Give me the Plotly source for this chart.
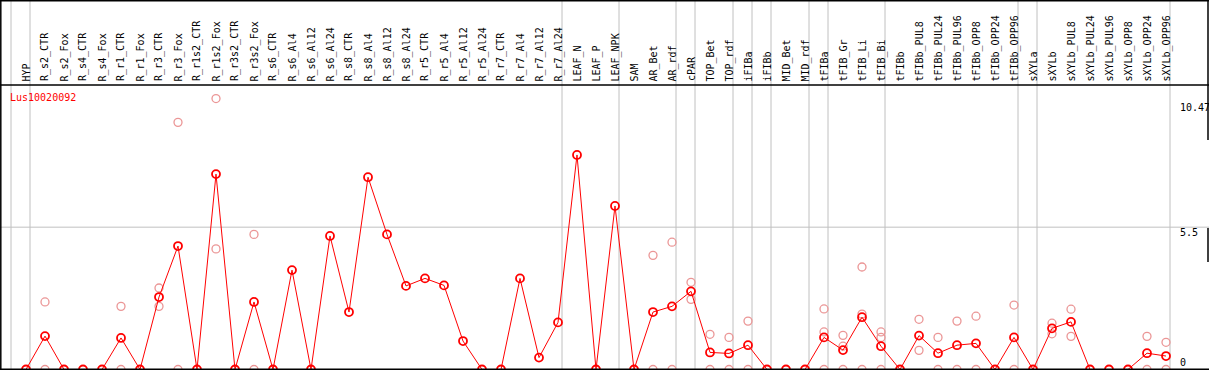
import plotly.graph_objects as go

# ---------------- data ----------------
categories = [
    "HYP", "R_s2_CTR", "R_s2_Fox", "R_s4_CTR", "R_s4_Fox", "R_r1_CTR", "R_r1_Fox",
    "R_r3_CTR", "R_r3_Fox", "R_r1s2_CTR", "R_r1s2_Fox", "R_r3s2_CTR", "R_r3s2_Fox",
    "R_s6_CTR", "R_s6_Al4", "R_s6_Al12", "R_s6_Al24", "R_s8_CTR", "R_s8_Al4",
    "R_s8_Al12", "R_s8_Al24", "R_r5_CTR", "R_r5_Al4", "R_r5_Al12", "R_r5_Al24",
    "R_r7_CTR", "R_r7_Al4", "R_r7_Al12", "R_r7_Al24", "LEAF_N", "LEAF_P", "LEAF_NPK",
    "SAM", "AR_Bet", "AR_rdf", "cPAR", "TOP_Bet", "TOP_rdf", "iFIBa", "iFIBb",
    "MID_Bet", "MID_rdf", "tFIBa", "tFIB_Gr", "tFIB_Li", "tFIB_Bi", "tFIBb",
    "tFIBb_PUL8", "tFIBb_PUL24", "tFIBb_PUL96", "tFIBb_OPP8", "tFIBb_OPP24",
    "tFIBb_OPP96", "sXYLa", "sXYLb", "sXYLb_PUL8", "sXYLb_PUL24", "sXYLb_PUL96",
    "sXYLb_OPP8", "sXYLb_OPP24", "sXYLb_OPP96",
]

mean_values = [
    0, 1.29, 0, 0, 0, 1.22, 0, 2.80, 4.77, 0, 7.55, 0, 2.61,
    0, 3.84, 0, 5.16, 2.22, 7.43, 5.22, 3.23, 3.52, 3.25, 1.10, 0,
    0, 3.52, 0.46, 1.82, 8.29, 0, 6.32,
    0, 2.22, 2.44, 3.02, 0.66, 0.62, 0.94, 0,
    0, 0, 1.24, 0.75, 2.02, 0.90, 0,
    1.31, 0.63, 0.94, 1.01, 0, 1.24,
    0, 1.59, 1.84, 0, 0, 0, 0.63, 0.52,
]

# replicate measurements (None = no separate replicate drawn)
rep_1 = [None] * 61
rep_2 = [None] * 61
rep_3 = [None] * 61
replicates = {
    "R_s2_CTR": [2.61, 0], "R_r1_CTR": [2.44, 0], "R_r3_CTR": [3.15, 2.44],
    "R_r3_Fox": [9.55, 0], "R_r1s2_Fox": [10.47, 4.66], "R_r3s2_Fox": [5.22, 0],
    "AR_Bet": [4.41, 0], "AR_rdf": [4.92, 0], "cPAR": [3.37, 2.71],
    "TOP_Bet": [1.36, 0], "TOP_rdf": [1.24, 0], "iFIBa": [1.87, 0],
    "tFIBa": [2.34, 1.45, 0], "tFIB_Gr": [1.32, 0.90, 0], "tFIB_Li": [3.96, 2.14, 0],
    "tFIB_Bi": [1.45, 1.24, 0], "tFIBb_PUL8": [1.94, 0.74], "tFIBb_PUL24": [1.24, 0],
    "tFIBb_PUL96": [1.87, 0], "tFIBb_OPP8": [2.06, 0], "tFIBb_OPP96": [2.49, 0],
    "sXYLb": [1.79, 1.38], "sXYLb_PUL8": [2.33, 1.28], "sXYLb_OPP24": [1.28, 0],
    "sXYLb_OPP96": [1.05, 0],
}
for name, reps in replicates.items():
    i = categories.index(name)
    for lst, v in zip((rep_1, rep_2, rep_3), reps):
        lst[i] = v

group_ends = ["HYP", "R_r7_Al24", "LEAF_NPK", "AR_rdf", "cPAR", "TOP_rdf", "iFIBa",
              "iFIBb", "MID_rdf", "tFIBa", "tFIB_Bi", "tFIBb_OPP96", "sXYLa", "sXYLb_OPP96"]
y_tick_values = [0, 5.5, 10.47]
y_tick_labels = ["0", "5.5", "10.47"]
gene_name = "Lus10020092"

# ---------------- layout geometry ----------------
W, H = 1209, 370
X0_PX, STEP_PX = 26, 19          # pixel of first category, pixels per category
Y0_PX, UNIT_PX = 369.5, 25.88    # pixel of value 0, pixels per unit
HEADER_PX = 85

def xd(px):
    return (px - X0_PX) / STEP_PX

def yd(px):
    return (Y0_PX - px) / UNIT_PX

xr = [xd(0), xd(W)]
yr = [yd(H), yd(0)]

FONT = "DejaVu Sans Mono, Liberation Mono, monospace"
GRID = "#c0c0c0"

x_idx = list(range(len(categories)))

fig = go.Figure()

# replicates
rx, ry = [], []
for lst in (rep_1, rep_2, rep_3):
    for i, v in enumerate(lst):
        if v is not None:
            rx.append(i)
            ry.append(v)
fig.add_trace(go.Scatter(
    x=rx, y=ry, mode="markers",
    marker=dict(symbol="circle-open", size=8, color="rgb(235,150,150)",
                line=dict(width=1.3, color="rgb(235,150,150)")),
    hoverinfo="skip", showlegend=False, cliponaxis=True,
))
# mean line
fig.add_trace(go.Scatter(
    x=x_idx, y=mean_values, mode="lines+markers",
    line=dict(color="#ff0000", width=1),
    marker=dict(symbol="circle-open", size=8, color="#ff0000",
                line=dict(width=1.8, color="#ff0000")),
    showlegend=False, cliponaxis=True,
))

shapes = []
# vertical group separators (right edge of each group), plus the one before the first
sep_positions = [-1] + [categories.index(g) for g in group_ends]
for k in sep_positions:
    xv = k + 4 / STEP_PX
    shapes.append(dict(type="line", xref="x", yref="y", x0=xv, x1=xv, y0=yr[0], y1=yr[1],
                       line=dict(color=GRID, width=1), layer="below"))
# horizontal grid at 5.5
shapes.append(dict(type="line", xref="x", yref="y", x0=xr[0], x1=xr[1], y0=5.5, y1=5.5,
                   line=dict(color=GRID, width=1), layer="below"))
# frame lines
blk = dict(color="black", width=1.5)
shapes.append(dict(type="line", x0=xr[0], x1=xr[1], y0=yd(HEADER_PX), y1=yd(HEADER_PX), line=blk))
shapes.append(dict(type="line", x0=xr[0], x1=xr[1], y0=yd(0.8), y1=yd(0.8), line=blk))
shapes.append(dict(type="line", x0=xr[0], x1=xr[1], y0=0, y1=0, line=dict(color="black", width=2)))
shapes.append(dict(type="line", x0=xd(0.8), x1=xd(0.8), y0=yr[0], y1=yr[1], line=blk))
shapes.append(dict(type="line", x0=xd(1208), x1=xd(1208), y0=yd(0), y1=yd(140), line=blk))
shapes.append(dict(type="line", x0=xd(1208), x1=xd(1208), y0=yd(228), y1=yd(262), line=blk))

annotations = []
for i, c in enumerate(categories):
    annotations.append(dict(
        x=i, y=yd(83.5), xref="x", yref="y", text=c, textangle=-90,
        xanchor="center", yanchor="bottom", showarrow=False,
        font=dict(family=FONT, size=10, color="black"),
    ))
# y value labels on the right
label_centers_px = {"10.47": 107, "5.5": 232, "0": 362}
for v, t in zip(y_tick_values, y_tick_labels):
    annotations.append(dict(
        x=xd(1177.5), y=yd(label_centers_px[t]), xref="x", yref="y", text=t,
        xanchor="left", yanchor="middle", showarrow=False,
        font=dict(family=FONT, size=10, color="black"),
    ))
annotations.append(dict(
    x=xd(8), y=yd(97), xref="x", yref="y", text=gene_name,
    xanchor="left", yanchor="middle", showarrow=False,
    font=dict(family=FONT, size=10, color="#ff0000"),
))

fig.update_layout(
    width=W, height=H,
    margin=dict(l=0, r=0, t=0, b=0, pad=0),
    paper_bgcolor="white", plot_bgcolor="white",
    xaxis=dict(range=xr, visible=False, fixedrange=True),
    yaxis=dict(range=yr, visible=False, fixedrange=True),
    shapes=shapes, annotations=annotations,
    showlegend=False,
)

fig.write_html(
    "out.html",
    config={"displayModeBar": False},
    post_script="document.body.style.margin='0px';document.body.style.padding='0px';document.body.style.overflow='hidden';",
)
